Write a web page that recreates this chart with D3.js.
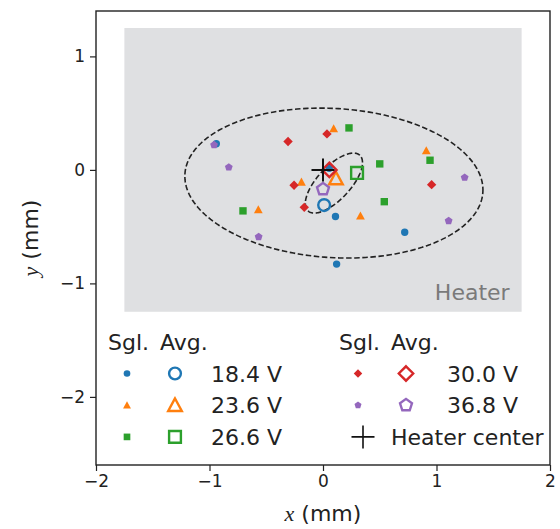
<!DOCTYPE html>
<html>
<head>
<meta charset="utf-8">
<script src="https://cdn.jsdelivr.net/npm/d3@7"></script>
<style>
body { margin: 0; background: #fff; }
text { font-family: "DejaVu Sans", sans-serif; }
</style>
</head>
<body>
<svg width="560" height="529"></svg>
<script>
// series (voltages) and their single / averaged positions in mm
var voltages = ["18.4 V", "23.6 V", "26.6 V", "30.0 V", "36.8 V"];
var sglX = [
  [-0.94, 0.11, 0.72, 0.12, 0.055],
  [0.094, 0.91, -0.19, -0.57, 0.33],
  [0.229, 0.943, 0.50, 0.54, -0.705],
  [-0.308, 0.035, -0.255, -0.165, 0.957],
  [-0.96, -0.83, -0.567, 1.248, 1.107]
];
var sglY = [
  [0.23, -0.41, -0.55, -0.83, 0.015],
  [0.364, 0.17, -0.106, -0.35, -0.405],
  [0.37, 0.085, 0.053, -0.28, -0.361],
  [0.25, 0.317, -0.135, -0.33, -0.13],
  [0.22, 0.023, -0.59, -0.067, -0.449]
];
var avgX = [0.01, 0.114, 0.30, 0.056, 0.0];
var avgY = [-0.31, -0.076, -0.027, 0.0, -0.17];
var heaterCenter = [0, 0];
var heaterX = [-1.75, 1.75];
var heaterY = [-1.25, 1.25];
// dashed ellipses: center, semi axes, angle (deg)
var ellCx = [0.096, 0.096];
var ellCy = [-0.116, -0.116];
var ellA = [1.315, 0.335];
var ellB = [0.657, 0.145];
var ellAng = [-3.5, 47];
var xTicks = [-2, -1, 0, 1, 2];
var yTicks = [-2, -1, 0, 1];

// styles
var colors = ["#1f77b4", "#ff7f0e", "#2ca02c", "#d62728", "#9467bd"];
var shapes = ["circle", "triangle", "square", "diamond", "pentagon"];
var sglR = [3.7, 4.4, 3.7, 4.7, 4.1];
var avgR = [5.9, 6.8, 5.9, 7.2, 6.3];

var svg = d3.select("svg");
var x = d3.scaleLinear().domain([-2, 2]).range([96, 550]);
var y = d3.scaleLinear().domain([-2.6, 1.4]).range([465, 11]);

function shapePath(shape, r) {
  if (shape == "circle") {
    return "M" + r + ",0A" + r + "," + r + " 0 1,1 " + (-r) + ",0A" + r + "," + r + " 0 1,1 " + r + ",0Z";
  }
  if (shape == "triangle") {
    return "M0," + (-r) + "L" + (-r) + "," + (0.85 * r) + "L" + r + "," + (0.85 * r) + "Z";
  }
  if (shape == "square") {
    return "M" + (-r) + "," + (-r) + "H" + r + "V" + r + "H" + (-r) + "Z";
  }
  if (shape == "diamond") {
    return "M0," + (-r) + "L" + r + ",0L0," + r + "L" + (-r) + ",0Z";
  }
  var pts = d3.range(5).map(function (k) {
    var a = (-90 + k * 72) * Math.PI / 180;
    return [r * Math.cos(a), r * Math.sin(a)];
  });
  return "M" + pts.join("L") + "Z";
}

// heater area
svg.append("rect")
  .attr("x", x(heaterX[0]))
  .attr("y", y(heaterY[1]))
  .attr("width", x(heaterX[1]) - x(heaterX[0]))
  .attr("height", y(heaterY[0]) - y(heaterY[1]))
  .attr("fill", "#dfe0e2");

svg.append("text")
  .attr("x", x(heaterX[1]) - 12)
  .attr("y", y(heaterY[0]) - 12)
  .attr("text-anchor", "end")
  .attr("font-size", "22px")
  .attr("fill", "#7a7a7a")
  .text("Heater");

// ellipses
var line = d3.line();
ellCx.forEach(function (cx, i) {
  var t = ellAng[i] * Math.PI / 180;
  var pts = d3.range(0, 361, 2).map(function (deg) {
    var p = deg * Math.PI / 180;
    var ex = ellA[i] * Math.cos(p), ey = ellB[i] * Math.sin(p);
    return [x(cx + ex * Math.cos(t) - ey * Math.sin(t)),
            y(ellCy[i] + ex * Math.sin(t) + ey * Math.cos(t))];
  });
  svg.append("path")
    .attr("d", line(pts))
    .attr("fill", "none")
    .attr("stroke", "#222")
    .attr("stroke-width", 1.6)
    .attr("stroke-dasharray", "5.5,2.6");
});

// single shots
voltages.forEach(function (v, i) {
  svg.append("g").selectAll("path")
    .data(d3.range(sglX[i].length))
    .enter()
    .append("path")
    .attr("transform", function (j) { return "translate(" + x(sglX[i][j]) + "," + y(sglY[i][j]) + ")"; })
    .attr("d", shapePath(shapes[i], sglR[i]))
    .attr("fill", colors[i]);
});

// averages
voltages.forEach(function (v, i) {
  svg.append("path")
    .attr("transform", "translate(" + x(avgX[i]) + "," + y(avgY[i]) + ")")
    .attr("d", shapePath(shapes[i], avgR[i]))
    .attr("fill", "none")
    .attr("stroke", colors[i])
    .attr("stroke-width", 2.4);
});

function cross(g, cx, cy, w) {
  g.append("path")
    .attr("d", "M" + (cx - 11.5) + "," + cy + "H" + (cx + 11.5) + "M" + cx + "," + (cy - 11.5) + "V" + (cy + 11.5))
    .attr("stroke", "#111")
    .attr("stroke-width", w);
}
cross(svg, x(heaterCenter[0]), y(heaterCenter[1]), 2);

// axes
var gx = svg.append("g")
  .attr("transform", "translate(0," + y(-2.6) + ")")
  .call(d3.axisBottom(x).tickValues(xTicks).tickFormat(d3.format("d")).tickSize(6).tickPadding(4));
var gy = svg.append("g")
  .attr("transform", "translate(" + x(-2) + ",0)")
  .call(d3.axisLeft(y).tickValues(yTicks).tickFormat(d3.format("d")).tickSize(6).tickPadding(5));
[gx, gy].forEach(function (g) {
  g.select(".domain").remove();
  g.selectAll("line").attr("stroke", "#222").attr("stroke-width", 1.2);
  g.selectAll("text")
    .attr("font-family", "DejaVu Sans")
    .attr("font-size", "17px")
    .attr("fill", "#222");
});

svg.append("rect")
  .attr("x", x(-2))
  .attr("y", y(1.4))
  .attr("width", x(2) - x(-2))
  .attr("height", y(-2.6) - y(1.4))
  .attr("fill", "none")
  .attr("stroke", "#222")
  .attr("stroke-width", 1.4);

// axis labels
var xl = svg.append("text")
  .attr("x", 323)
  .attr("y", 521)
  .attr("text-anchor", "middle")
  .attr("font-size", "22px")
  .attr("fill", "#222");
xl.append("tspan").attr("font-family", "Liberation Serif").attr("font-style", "italic").text("x");
xl.append("tspan").text(" (mm)");

var yl = svg.append("text")
  .attr("transform", "translate(38,238) rotate(-90)")
  .attr("text-anchor", "middle")
  .attr("font-size", "22px")
  .attr("fill", "#222");
yl.append("tspan").attr("font-family", "Liberation Serif").attr("font-style", "italic").text("y");
yl.append("tspan").text(" (mm)");

// legend
var leg = svg.append("g");
var cols = [{ x0: 108, items: [0, 1, 2] }, { x0: 339, items: [3, 4] }];
cols.forEach(function (c) {
  leg.append("text").attr("x", c.x0).attr("y", 350)
    .attr("font-family", "Liberation Sans").attr("font-size", "22px").attr("fill", "#222").text("Sgl.");
  leg.append("text").attr("x", c.x0 + 52).attr("y", 350)
    .attr("font-family", "Liberation Sans").attr("font-size", "22px").attr("fill", "#222").text("Avg.");
  c.items.forEach(function (i, k) {
    var cy = 373.5 + k * 31.7;
    leg.append("path")
      .attr("transform", "translate(" + (c.x0 + 19) + "," + cy + ")")
      .attr("d", shapePath(shapes[i], sglR[i] * 0.9))
      .attr("fill", colors[i]);
    leg.append("path")
      .attr("transform", "translate(" + (c.x0 + 67) + "," + cy + ")")
      .attr("d", shapePath(shapes[i], avgR[i]))
      .attr("fill", "none")
      .attr("stroke", colors[i])
      .attr("stroke-width", 2.4);
    leg.append("text")
      .attr("x", c.x0 + 103 + (c.x0 > 200 ? 5 : 0))
      .attr("y", cy + 8)
      .attr("font-size", "22px")
      .attr("fill", "#222")
      .text(voltages[i]);
  });
});
cross(leg, 363, 436.9, 1.6);
leg.append("text")
  .attr("x", 391)
  .attr("y", 444.9)
  .attr("font-size", "22px")
  .attr("fill", "#222")
  .text("Heater center");
</script>
</body>
</html>
